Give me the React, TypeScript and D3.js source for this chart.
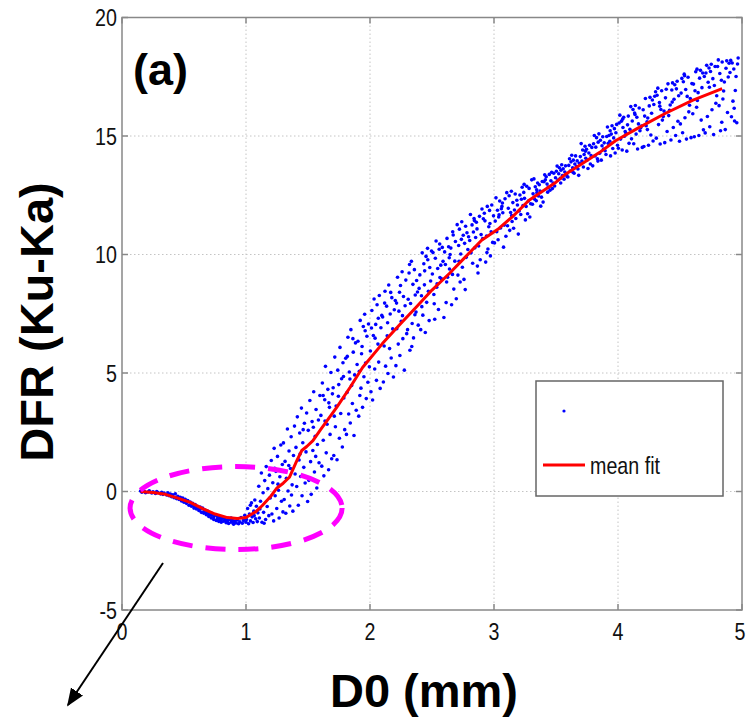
import * as d3 from 'd3'

// mean fit curve
const fitX = [0.15, 0.25, 0.35, 0.45, 0.55, 0.65, 0.75, 0.85, 0.93, 1.0, 1.08, 1.13, 1.2, 1.25, 1.3, 1.35, 1.41, 1.45, 1.49, 1.54, 1.6, 1.73, 1.84, 1.94, 2.1, 2.25, 2.37, 2.5, 2.64, 2.77, 2.9, 3.04, 3.15, 3.28, 3.4, 3.5, 3.58, 3.7, 3.85, 3.98, 4.15, 4.38, 4.6, 4.84]
const fitY = [0, -0.04, -0.12, -0.28, -0.46, -0.72, -0.95, -1.1, -1.14, -1.1, -0.85, -0.6, -0.2, 0.15, 0.35, 0.6, 1.3, 1.73, 1.9, 2.15, 2.6, 3.54, 4.4, 5.23, 6.24, 7.1, 7.76, 8.5, 9.2, 9.9, 10.6, 11.1, 11.6, 12.28, 12.7, 13.05, 13.4, 13.8, 14.3, 14.8, 15.3, 15.95, 16.5, 17.0]

// scatter (D0, DFR), by segment
const scatterLow = [
    [0.15,0.02],[0.16,-0.03],[0.18,0.01],[0.19,-0.05],[0.21,-0.02],[0.22,0.03],[0.24,-0.06],[0.25,-0.01],[0.27,-0.08],[0.28,0.0],[0.29,-0.04],[0.31,-0.1],[0.32,-0.03],[0.33,-0.12],[0.34,-0.07],[0.36,-0.15],[0.37,-0.05],[0.38,-0.18],[0.39,-0.11],[0.40,-0.22],[0.41,-0.14],[0.42,-0.26],[0.43,-0.1],[0.44,-0.3],[0.45,-0.2],[0.46,-0.34],[0.47,-0.24],[0.48,-0.4],[0.49,-0.28],[0.50,-0.45],[0.51,-0.33],[0.52,-0.5],[0.53,-0.38],[0.54,-0.58],[0.55,-0.44],[0.56,-0.62],[0.57,-0.5],[0.58,-0.7],[0.59,-0.55],[0.60,-0.74],[0.61,-0.62],[0.62,-0.8],[0.63,-0.66],[0.64,-0.88],[0.65,-0.7],[0.66,-0.92],[0.67,-0.78],[0.68,-0.98],[0.69,-0.82],[0.70,-1.05],[0.71,-0.9],[0.72,-1.12],[0.73,-0.93],[0.74,-1.18],[0.75,-1.0],[0.76,-1.22],[0.77,-1.05],[0.78,-1.26],[0.79,-1.1],[0.80,-1.3],[0.81,-1.12],[0.82,-1.25],[0.83,-1.15],[0.84,-1.32],[0.85,-1.2],[0.86,-1.35],[0.87,-1.18],[0.88,-1.3],[0.89,-1.22],[0.90,-1.38],[0.91,-1.25],[0.92,-1.33],[0.93,-1.2],[0.94,-1.36],[0.95,-1.28],[0.96,-1.1],[0.97,-1.34],[0.98,-1.22],[0.99,-1.0],[1.00,-1.3],
    [0.52,-0.42],[0.58,-0.6],[0.63,-0.75],[0.68,-0.9],[0.72,-1.0],[0.77,-1.15],[0.83,-1.22],[0.88,-1.12],[0.62,-0.7],[0.66,-0.85],[0.74,-1.08],[0.79,-1.2],[0.85,-1.28],[0.9,-1.3],[0.7,-0.95],[0.6,-0.68],[0.56,-0.54],[0.8,-1.18],
    [1.004,-1.18],[1.013,-0.72],[1.021,-1.36],[1.028,-0.95],[1.036,-1.24],[1.044,-0.48],[1.049,-1.07],[1.057,-1.31],[1.063,-0.83],[1.071,-0.36],[1.078,-1.15],[1.084,-0.62],[1.091,-1.27],[1.096,-0.9],[1.035,-0.58],[1.066,-1.02],
    [1.103,0.22],[1.108,-1.12],[1.117,-0.41],[1.124,0.78],[1.129,-1.3],[1.138,-0.05],[1.142,-0.88],[1.151,0.46],[1.158,-1.18],[1.163,1.05],[1.171,-0.63],[1.176,0.12],[1.184,-1.02],[1.189,0.69],[1.195,-0.27],[1.146,-1.34],[1.112,-0.74],
    [1.204,1.31],[1.209,-0.95],[1.216,0.37],[1.223,-1.24],[1.227,1.82],[1.235,-0.18],[1.241,0.85],[1.248,-0.72],[1.254,1.48],[1.262,0.05],[1.267,-1.12],[1.273,0.62],[1.281,1.96],[1.286,-0.41],[1.293,1.14],[1.298,-0.86],[1.258,0.31],[1.232,0.98]
]

const scatterRise = [
    [1.302,2.05],[1.308,-0.34],[1.315,1.27],[1.321,-0.92],[1.326,0.56],[1.334,2.64],[1.339,0.02],[1.347,1.71],[1.353,-0.61],[1.359,0.97],[1.364,2.31],[1.372,0.28],[1.378,-0.83],[1.383,1.52],[1.391,2.76],[1.396,0.74],[1.345,1.1],[1.367,-0.15],
    [1.403,1.86],[1.409,0.21],[1.414,3.15],[1.422,-0.58],[1.428,1.33],[1.433,2.47],[1.441,0.63],[1.447,3.52],[1.452,-0.18],[1.458,2.06],[1.466,1.02],[1.471,2.88],[1.477,0.36],[1.484,1.67],[1.489,3.31],[1.497,-0.42],[1.461,2.61],[1.436,1.58],
    [1.502,2.58],[1.507,0.47],[1.515,3.84],[1.521,1.26],[1.526,-0.12],[1.533,2.95],[1.539,1.73],[1.546,4.21],[1.552,0.82],[1.558,2.33],[1.565,3.46],[1.571,0.15],[1.576,1.98],[1.584,3.02],[1.589,1.21],[1.596,4.05],[1.543,2.71],[1.562,1.48],
    [1.604,3.21],[1.611,1.07],[1.616,4.58],[1.623,2.16],[1.628,0.66],[1.635,3.87],[1.641,5.28],[1.647,1.63],[1.654,2.84],[1.66,4.31],[1.666,0.92],[1.673,3.55],[1.678,2.41],[1.685,5.02],[1.691,1.38],[1.697,4.12],[1.637,2.97],[1.668,3.74],[1.622,4.05],
    [1.703,4.38],[1.708,1.52],[1.716,5.67],[1.721,2.73],[1.727,3.61],[1.734,1.34],[1.74,5.12],[1.745,4.02],[1.753,2.25],[1.758,6.08],[1.764,3.29],[1.771,4.76],[1.777,1.88],[1.782,5.43],[1.789,3.95],[1.796,2.61],[1.748,4.51],[1.712,3.18],[1.786,4.85],
    [1.804,5.62],[1.81,2.41],[1.815,4.18],[1.822,6.51],[1.828,3.27],[1.833,5.04],[1.841,2.89],[1.846,6.83],[1.852,4.47],[1.858,3.71],[1.865,5.88],[1.871,2.36],[1.876,4.92],[1.883,6.27],[1.889,3.43],[1.896,5.36],[1.838,4.75],[1.862,6.45],[1.817,5.7],
    [1.903,6.34],[1.909,3.18],[1.914,5.07],[1.921,7.22],[1.927,4.36],[1.932,5.81],[1.94,3.55],[1.946,6.96],[1.951,4.84],[1.957,7.48],[1.964,5.42],[1.97,3.92],[1.975,6.55],[1.983,4.61],[1.988,7.07],[1.995,5.26],[1.936,6.12],[1.961,6.78],[1.918,4.05],
    [2.003,5.93],[2.008,4.21],[2.015,7.64],[2.021,3.86],[2.027,6.58],[2.033,8.12],[2.038,5.17],[2.046,7.05],[2.052,4.69],[2.057,7.88],[2.064,6.22],[2.07,5.46],[2.075,8.27],[2.082,4.35],[2.088,6.91],[2.095,7.43],[2.041,6.47],[2.067,7.31],[2.012,6.9],
    [2.102,7.36],[2.108,4.62],[2.114,6.14],[2.121,8.45],[2.126,5.29],[2.134,7.82],[2.139,6.57],[2.145,4.98],[2.151,8.71],[2.158,6.03],[2.163,7.49],[2.171,5.63],[2.176,8.18],[2.183,6.86],[2.189,4.83],[2.196,7.67],[2.142,7.12],[2.167,8.4],[2.118,7.95],
    [2.204,8.06],[2.209,5.31],[2.216,6.87],[2.222,9.04],[2.228,6.22],[2.233,7.61],[2.241,5.74],[2.246,8.69],[2.252,7.18],[2.259,9.27],[2.265,6.45],[2.27,8.23],[2.277,5.12],[2.283,7.84],[2.289,8.92],[2.296,6.66],[2.238,8.41],[2.262,7.42],[2.214,7.95],
    [2.303,6.83],[2.308,8.11],[2.315,9.22],[2.322,5.96],[2.327,7.93],[2.334,9.71],[2.34,7.09],[2.346,8.74],[2.351,6.48],[2.358,9.36],[2.365,8.29],[2.371,7.57],[2.376,8.9],[2.383,8.42],[2.389,7.02],[2.396,8.57],[2.337,6.12],[2.362,7.46],[2.319,9.58],
    [2.402,9.14],[2.409,6.83],[2.415,8.26],[2.421,10.07],[2.426,7.44],[2.434,9.61],[2.439,8.72],[2.446,6.71],[2.452,9.92],[2.457,7.98],[2.464,10.26],[2.471,8.45],[2.477,7.21],[2.482,9.45],[2.489,8.88],[2.496,10.15],[2.441,9.31],[2.466,9.78],[2.418,7.8]
]

const scatterMid = [
    [2.503,9.18],[2.508,10.08],[2.515,8.31],[2.522,7.27],[2.527,9.84],[2.533,10.57],[2.541,8.76],[2.546,9.41],[2.552,7.68],[2.558,10.22],[2.564,9.03],[2.571,9.55],[2.577,8.97],[2.583,10.3],[2.589,9.71],[2.596,7.34],[2.538,8.62],[2.562,10.44],[2.518,7.92],
    [2.602,10.11],[2.608,9.58],[2.614,7.97],[2.621,10.68],[2.626,9.04],[2.634,10.33],[2.639,9.86],[2.646,10.0],[2.652,10.27],[2.658,7.88],[2.665,9.16],[2.671,10.82],[2.676,8.54],[2.684,9.72],[2.689,10.55],[2.696,8.13],[2.641,9.39],[2.667,10.96],[2.618,8.84],
    [2.703,11.26],[2.709,9.13],[2.715,10.38],[2.721,11.07],[2.727,8.84],[2.732,10.02],[2.74,11.38],[2.745,9.46],[2.752,10.81],[2.758,8.95],[2.763,10.47],[2.771,11.19],[2.776,9.88],[2.782,10.92],[2.789,10.21],[2.795,10.75],[2.737,10.64],[2.768,8.52],[2.718,9.71],
    [2.804,10.59],[2.81,11.69],[2.815,10.07],[2.823,11.25],[2.828,9.63],[2.834,10.95],[2.839,11.52],[2.846,10.28],[2.852,10.72],[2.858,11.36],[2.863,11.08],[2.871,9.22],[2.876,10.36],[2.883,11.61],[2.889,9.78],[2.896,10.84],[2.842,11.43],[2.866,9.51],
    [2.903,11.92],[2.909,10.67],[2.914,11.51],[2.922,11.74],[2.927,11.42],[2.933,9.68],[2.94,10.78],[2.946,12.03],[2.951,10.23],[2.958,11.17],[2.964,11.86],[2.971,9.94],[2.977,10.96],[2.982,12.09],[2.989,10.51],[2.996,11.63],[2.943,10.08],[2.967,11.31],
    [3.004,10.49],[3.01,11.41],[3.016,12.39],[3.022,10.96],[3.028,11.87],[3.033,10.62],[3.041,11.68],[3.046,12.26],[3.053,11.12],[3.059,11.93],[3.064,12.03],[3.071,11.76],[3.077,10.31],[3.083,11.24],[3.089,12.35],[3.096,10.77],[3.038,11.58],[3.068,12.17],
    [3.103,12.61],[3.109,11.21],[3.115,11.95],[3.122,12.48],[3.127,11.02],[3.134,11.77],[3.14,12.67],[3.146,11.39],[3.152,12.19],[3.158,11.11],[3.165,11.88],[3.171,12.55],[3.176,11.52],[3.184,12.29],[3.189,12.09],[3.196,10.86],[3.142,11.64],
    [3.203,11.84],[3.209,12.51],[3.216,11.69],[3.221,12.33],[3.227,12.84],[3.234,12.07],[3.24,12.62],[3.246,12.37],[3.253,11.46],[3.259,12.03],[3.264,12.88],[3.271,11.72],[3.277,12.26],[3.283,12.79],[3.289,11.58],[3.296,12.14],[3.243,12.96],
    [3.304,13.15],[3.31,12.12],[3.315,12.56],[3.322,13.19],[3.328,12.33],[3.333,12.86],[3.341,12.27],[3.346,12.61],[3.352,13.02],[3.358,12.47],[3.365,12.94],[3.371,12.68],[3.377,12.04],[3.383,12.42],[3.389,13.08],[3.396,12.21],[3.344,12.73],
    [3.403,13.07],[3.409,13.36],[3.414,13.15],[3.421,13.28],[3.428,12.97],[3.433,12.63],[3.441,12.84],[3.446,13.38],[3.452,12.71],[3.459,13.11],[3.465,13.47],[3.471,12.78],[3.477,13.02],[3.482,13.43],[3.489,12.89],[3.496,13.24],[3.436,12.83],
    [3.503,13.51],[3.509,13.73],[3.515,13.14],[3.522,13.41],[3.527,13.66],[3.534,13.21],[3.54,13.56],[3.546,13.79],[3.552,13.33],[3.558,13.62],[3.565,13.18],[3.571,13.48],[3.577,13.74],[3.584,13.39],[3.589,13.29],[3.596,13.27],[3.538,13.02]
]

const scatterHigh = [
    [3.603,13.76],[3.609,14.04],[3.615,13.52],[3.621,13.91],[3.627,14.19],[3.634,13.66],[3.64,13.98],[3.646,13.43],[3.652,13.82],[3.658,14.16],[3.665,13.71],[3.671,13.95],[3.677,13.61],[3.683,13.34],[3.689,13.85],[3.696,14.13],[3.637,13.47],
    [3.703,14.68],[3.709,13.94],[3.715,14.41],[3.721,13.69],[3.727,14.22],[3.734,14.57],[3.74,14.06],[3.746,14.44],[3.752,13.99],[3.758,13.63],[3.765,14.28],[3.771,14.61],[3.777,13.82],[3.783,14.17],[3.789,14.52],[3.796,13.74],[3.737,14.36],
    [3.803,14.67],[3.809,15.02],[3.815,14.16],[3.821,14.53],[3.827,14.93],[3.834,14.04],[3.84,14.74],[3.846,15.09],[3.852,14.27],[3.858,14.82],[3.865,13.98],[3.871,14.59],[3.877,14.97],[3.883,14.45],[3.889,14.71],[3.896,14.38],[3.838,13.94],
    [3.903,14.22],[3.909,14.98],[3.915,15.38],[3.921,14.69],[3.927,15.02],[3.934,14.78],[3.94,14.16],[3.946,15.08],[3.952,15.43],[3.958,14.47],[3.965,14.92],[3.971,15.31],[3.977,14.28],[3.983,15.14],[3.989,15.49],[3.996,14.61],[3.937,15.22],
    [4.003,14.48],[4.009,15.55],[4.015,15.88],[4.021,14.87],[4.027,15.62],[4.034,14.41],[4.04,15.36],[4.046,15.79],[4.052,14.99],[4.058,15.19],[4.065,15.11],[4.071,14.36],[4.077,15.47],[4.083,15.84],[4.089,14.69],[4.096,15.28],[4.037,15.71],
    [4.103,16.24],[4.109,14.88],[4.115,15.63],[4.121,16.12],[4.127,14.67],[4.134,15.97],[4.14,16.29],[4.146,15.08],[4.152,15.79],[4.158,14.45],[4.165,15.51],[4.171,16.18],[4.177,15.22],[4.183,15.35],[4.189,15.42],[4.196,14.52],[4.137,15.91],
    [4.203,16.11],[4.209,14.56],[4.215,15.84],[4.221,16.58],[4.227,15.43],[4.234,15.6],[4.24,15.76],[4.246,14.61],[4.252,16.27],[4.258,16.63],[4.265,15.04],[4.271,15.96],[4.277,16.52],[4.283,14.79],[4.289,16.33],[4.296,16.68],[4.237,15.27],
    [4.303,16.87],[4.309,14.91],[4.315,16.72],[4.321,17.02],[4.327,15.48],[4.334,16.41],[4.34,14.66],[4.346,16.12],[4.352,16.91],[4.358,15.67],[4.365,15.82],[4.371,16.05],[4.377,14.72],[4.383,16.61],[4.389,16.97],[4.396,15.19],[4.337,16.26],
    [4.403,17.2],[4.409,15.86],[4.415,16.08],[4.421,16.31],[4.427,14.83],[4.434,16.94],[4.44,17.24],[4.446,15.36],[4.452,16.55],[4.458,17.16],[4.465,15.02],[4.471,16.99],[4.477,17.31],[4.483,15.62],[4.489,16.7],[4.496,14.78],[4.437,16.43],
    [4.503,15.51],[4.509,16.81],[4.515,17.43],[4.521,15.14],[4.527,17.29],[4.534,17.61],[4.54,15.77],[4.546,16.96],[4.552,14.87],[4.558,16.67],[4.565,17.48],[4.571,16.02],[4.577,16.3],[4.583,16.58],[4.589,14.93],[4.596,17.21],[4.537,17.54],
    [4.603,15.94],[4.609,17.19],[4.615,14.97],[4.621,16.91],[4.627,17.71],[4.634,16.21],[4.64,16.5],[4.646,16.83],[4.652,15.02],[4.658,17.44],[4.665,17.77],[4.671,15.67],[4.677,17.04],[4.683,17.66],[4.689,15.26],[4.696,17.51],[4.637,17.82],
    [4.703,15.13],[4.709,17.66],[4.715,17.98],[4.721,15.82],[4.727,17.27],[4.734,17.87],[4.74,15.39],[4.746,17.72],[4.752,18.03],[4.758,16.11],[4.765,17.42],[4.771,15.06],[4.777,17.13],[4.783,17.93],[4.789,16.38],[4.796,16.7],[4.737,17.06],
    [4.803,17.93],[4.809,18.21],[4.815,16.28],[4.821,17.64],[4.827,15.22],[4.834,17.35],[4.84,18.12],[4.846,16.56],[4.852,16.9],[4.858,17.28],[4.865,15.27],[4.871,17.86],[4.877,18.17],[4.883,15.99],[4.889,17.49],[4.896,18.07],[4.837,15.58],
    [4.903,17.68],[4.909,18.19],[4.915,15.81],[4.921,18.08],[4.927,16.47],[4.934,17.83],[4.94,15.63],[4.946,16.92],[4.952,17.51],[4.958,15.56],[4.964,18.04],[4.969,18.29],[4.937,16.17]
]

const xTicks = [0, 1, 2, 3, 4, 5]
const yTicks = [-5, 0, 5, 10, 15, 20]

const W = 746
const H = 719
const m = { left: 122, top: 17.5, right: 742, bottom: 610 }
const plainFont = '"Liberation Sans", Arial, sans-serif'

// helvetica-narrow look: squeeze the regular sans horizontally
const NarrowText = ({ x, y, anchor = 'start', size = 24, children }) => (
    <text
        transform={`translate(${x},${y}) scale(0.82,1)`}
        textAnchor={anchor}
        fontFamily={plainFont}
        fontSize={size}
        fill="#111"
    >
        {children}
    </text>
)

export default function App() {
    const x = d3.scaleLinear().domain([0, 5]).range([m.left, m.right])
    const y = d3.scaleLinear().domain([-5, 20]).range([m.bottom, m.top])

    const fitLine = d3
        .line<number>()
        .x((d) => x(d))
        .y((_, i) => y(fitY[i]))
    const points = [...scatterLow, ...scatterRise, ...scatterMid, ...scatterHigh]

    // ellipse marking the small-drop region, in data units
    const ell = { cx: 0.92, cy: -0.7, rx: 0.855, ry: 1.75 }

    return (
        <svg width={W} height={H} style={{ position: 'absolute', left: 0, top: 0 }}>
            <defs>
                <marker id="arr" viewBox="0 0 10 10" refX="9" refY="5" markerWidth="9" markerHeight="9" orient="auto">
                    <path d="M0,1 L10,5 L0,9 z" fill="#000" />
                </marker>
            </defs>
            <rect width={W} height={H} fill="#fff" />
            {/* grid */}
            {xTicks.slice(1, -1).map((t) => (
                <line key={'gx' + t} x1={x(t)} x2={x(t)} y1={m.top} y2={m.bottom} stroke="#c4c4c4" strokeDasharray="1.5,2.5" />
            ))}
            {yTicks.slice(1, -1).map((t) => (
                <line key={'gy' + t} x1={m.left} x2={m.right} y1={y(t)} y2={y(t)} stroke="#c4c4c4" strokeDasharray="1.5,2.5" />
            ))}
            {/* scatter */}
            <g fill="#0000ff">
                {points.map((p, i) => (
                    <circle key={i} cx={x(p[0])} cy={y(p[1])} r={1.8} />
                ))}
            </g>
            <path d={fitLine(fitX) || ''} fill="none" stroke="#ff0000" strokeWidth={3} strokeLinejoin="round" />
            {/* box + ticks */}
            <rect x={m.left} y={m.top} width={m.right - m.left} height={m.bottom - m.top} fill="none" stroke="#888" strokeWidth={1.5} />
            {xTicks.map((t) => (
                <g key={'tx' + t}>
                    <line x1={x(t)} x2={x(t)} y1={m.bottom} y2={m.bottom - 6} stroke="#888" strokeWidth={1.5} />
                    <line x1={x(t)} x2={x(t)} y1={m.top} y2={m.top + 6} stroke="#888" strokeWidth={1.5} />
                    <NarrowText x={t === 5 ? x(t) - 2 : x(t)} y={m.bottom + 30} anchor="middle">
                        {t}
                    </NarrowText>
                </g>
            ))}
            {yTicks.map((t) => (
                <g key={'ty' + t}>
                    <line x1={m.left} x2={m.left + 6} y1={y(t)} y2={y(t)} stroke="#888" strokeWidth={1.5} />
                    <line x1={m.right} x2={m.right - 6} y1={y(t)} y2={y(t)} stroke="#888" strokeWidth={1.5} />
                    <NarrowText x={m.left - 5} y={y(t) + 8.5} anchor="end">
                        {t}
                    </NarrowText>
                </g>
            ))}
            {/* legend */}
            <rect x={536} y={381} width={187} height={115} fill="#fff" stroke="#666" strokeWidth={1.5} />
            <circle cx={564} cy={411} r={1.6} fill="#0000ff" />
            <line x1={543} x2={585} y1={465} y2={465} stroke="#ff0000" strokeWidth={3} />
            <NarrowText x={590} y={474} size={24}>
                mean fit
            </NarrowText>
            {/* annotations */}
            <ellipse
                cx={x(ell.cx)}
                cy={y(ell.cy)}
                rx={x(ell.rx) - x(0)}
                ry={y(0) - y(ell.ry)}
                fill="none"
                stroke="#ff00ff"
                strokeWidth={5}
                strokeDasharray="20,13"
            />
            <line x1={163} y1={563} x2={68} y2={705} stroke="#000" strokeWidth={2} markerEnd="url(#arr)" />
            <text x={133} y={85} fontFamily={plainFont} fontWeight="bold" fontSize={45}>
                (a)
            </text>
            <text x={424} y={707} textAnchor="middle" fontFamily={plainFont} fontWeight="bold" fontSize={47}>
                D0 (mm)
            </text>
            <text
                transform="translate(53,322) rotate(-90)"
                textAnchor="middle"
                fontFamily={plainFont}
                fontWeight="bold"
                fontSize={47}
            >
                DFR (Ku-Ka)
            </text>
        </svg>
    )
}
